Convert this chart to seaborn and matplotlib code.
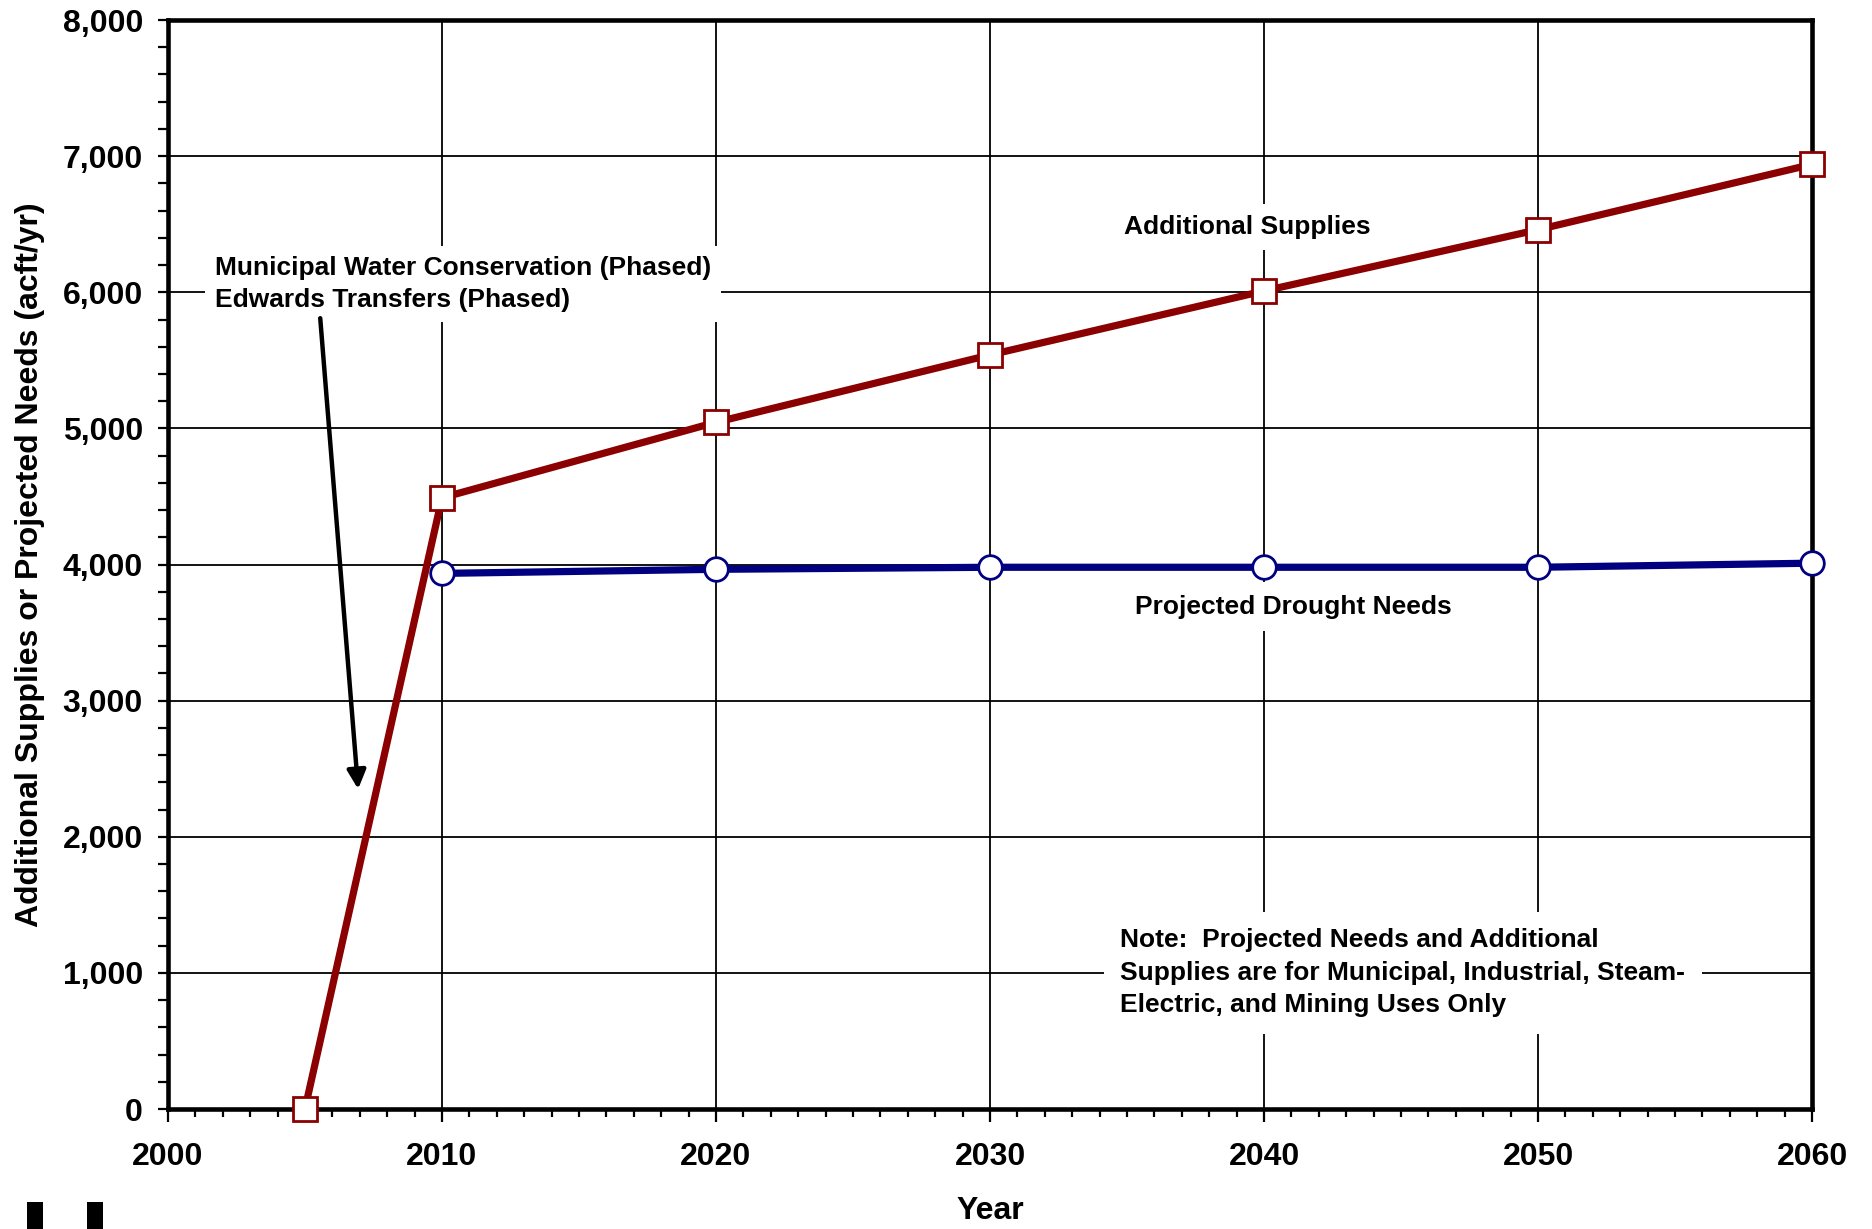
import matplotlib
matplotlib.use("Agg")
import matplotlib.pyplot as plt
from matplotlib.ticker import MultipleLocator, FuncFormatter
import seaborn as sns

# values
supply_years = [2005, 2010, 2020, 2030, 2040, 2050, 2060]
additional_supplies = [0, 4490, 5045, 5540, 6010, 6460, 6940]

need_years = [2010, 2020, 2030, 2040, 2050, 2060]
drought_needs = [3935, 3965, 3980, 3980, 3980, 4010]

# annotation arrow (tail, head) in data units
arrow_tail = (2005.55, 5830)
arrow_head = (2006.95, 2330)

sns.set_style("white")
plt.rcParams["font.family"] = ["Liberation Sans", "DejaVu Sans"]
plt.rcParams["font.weight"] = "bold"
for k in ("text.color", "axes.labelcolor", "xtick.color", "ytick.color"):
    plt.rcParams[k] = "black"

fig = plt.figure(figsize=(18.72, 12.29), dpi=100)
ax = fig.add_axes([0.0897, 0.0976, 0.8783, 0.8861])

red = "#8B0000"
navy = "#000080"

sns.lineplot(x=supply_years, y=additional_supplies, ax=ax, color=red,
             linewidth=5.2, marker="s", markersize=17, markerfacecolor="white",
             markeredgecolor=red, markeredgewidth=2, clip_on=False, zorder=4)
sns.lineplot(x=need_years, y=drought_needs, ax=ax, color=navy,
             linewidth=5.2, marker="o", markersize=17, markerfacecolor="white",
             markeredgecolor=navy, markeredgewidth=2, clip_on=False, zorder=5)

ax.set_xlim(2000, 2060)
ax.set_ylim(0, 8000)
ax.xaxis.set_major_locator(MultipleLocator(10))
ax.xaxis.set_minor_locator(MultipleLocator(1))
ax.yaxis.set_major_locator(MultipleLocator(1000))
ax.yaxis.set_minor_locator(MultipleLocator(200))
ax.yaxis.set_major_formatter(FuncFormatter(lambda v, p: f"{int(v):,}"))

ax.grid(True, which="major", color="black", linewidth=1.3)
ax.set_axisbelow(True)
for s in ax.spines.values():
    s.set_color("black")
    s.set_linewidth(3.3)

ax.tick_params(axis="x", which="major", direction="out", length=9, width=1.6,
               labelsize=23, pad=15, bottom=True)
ax.tick_params(axis="x", which="minor", direction="out", length=6, width=1.6, bottom=True)
ax.tick_params(axis="y", which="major", direction="out", length=7, width=1.6,
               labelsize=23, pad=11, left=True)
ax.tick_params(axis="y", which="minor", direction="out", length=7, width=1.6, left=True)
for lab in ax.get_xticklabels() + ax.get_yticklabels():
    lab.set_fontweight("bold")

ax.set_xlabel("Year", fontsize=23, fontweight="bold")
ax.set_ylabel("Additional Supplies or Projected Needs (acft/yr)", fontsize=23, fontweight="bold")
ax.xaxis.set_label_coords(0.5, -0.08)
ax.yaxis.set_label_coords(-0.075, 0.5)

box = dict(facecolor="white", edgecolor="none")
ax.text(2034.9, 6480, "Additional Supplies", fontsize=19, fontweight="bold",
        va="center", ha="left", bbox={**box, "pad": 8}, zorder=6)
ax.text(2035.3, 3690, "Projected Drought Needs", fontsize=19, fontweight="bold",
        va="center", ha="left", bbox={**box, "pad": 9}, zorder=6)
ax.text(2034.75, 1000,
        "Note:  Projected Needs and Additional\nSupplies are for Municipal, Industrial, Steam-\nElectric, and Mining Uses Only",
        fontsize=19, fontweight="bold", va="center", ha="left", linespacing=1.45,
        bbox={**box, "pad": 12}, zorder=6)
ax.text(2001.7, 6060,
        "Municipal Water Conservation (Phased)\nEdwards Transfers (Phased)",
        fontsize=19, fontweight="bold", va="center", ha="left", linespacing=1.45,
        bbox={**box, "pad": 7}, zorder=6)

ax.annotate("", xy=arrow_head, xytext=arrow_tail,
            arrowprops=dict(arrowstyle="-|>", color="black", lw=3.2, mutation_scale=28),
            zorder=6)

# cut-off glyph stubs at the bottom-left edge of the reference
for x0 in (0.0145, 0.0465):
    fig.patches.append(plt.Rectangle((x0, 0.0), 0.0085, 0.022, transform=fig.transFigure,
                                     facecolor="black", edgecolor="none"))

fig.savefig("out.png", dpi=100, facecolor="white")
